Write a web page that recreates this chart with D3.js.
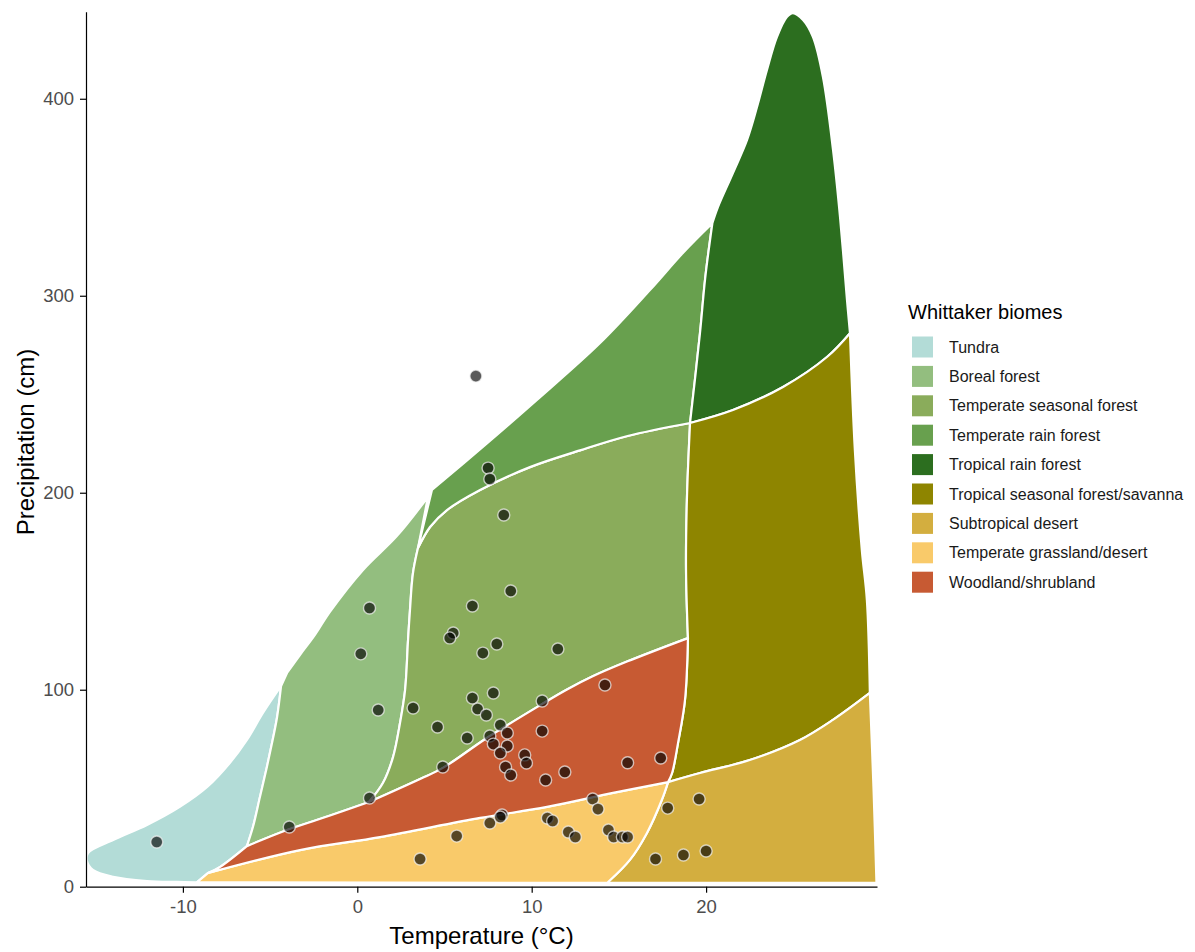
<!DOCTYPE html>
<html>
<head>
<meta charset="utf-8">
<script src="https://cdn.jsdelivr.net/npm/d3@7"></script>
<style>
  body { margin: 0; background: #fff; }
  svg { font-family: "Liberation Sans", Arial, sans-serif; }
</style>
</head>
<body>
<svg id="chart" width="1195" height="952"></svg>
<script>
// biome names and fills, legend order
const biomeNames = ["Tundra", "Boreal forest", "Temperate seasonal forest", "Temperate rain forest",
  "Tropical rain forest", "Tropical seasonal forest/savanna", "Subtropical desert",
  "Temperate grassland/desert", "Woodland/shrubland"];
const biomeColors = ["#B3DCD7", "#93BE7F", "#8AAC5B", "#68A04E", "#2C6E1F",
  "#8E8500", "#D3AE3F", "#F9CA6A", "#C75A33"];

const xTicks = [-10, 0, 10, 20];
const yTicks = [0, 100, 200, 300, 400];

// biome boundaries, [temperature °C, precipitation cm]
// tundra outline: from grassland corner, round the left tip, up to the top
const tundraOuter = [[-9.2, 2.2], [-10.35, 2.4], [-12.06, 2.9], [-14.0, 5.0], [-15.16, 8.5], [-15.5, 13.0],
  [-15.44, 17.1], [-14.0, 23.7], [-12.06, 31.3], [-10.18, 40.5], [-8.61, 50.6],
  [-7.30, 62.9], [-6.33, 74.5], [-5.41, 88.2], [-4.37, 101.9]];
const tundraBoreal = [[-4.37, 101.9], [-4.6, 86.0], [-4.85, 74.6], [-5.18, 60.9], [-5.58, 45.6], [-5.98, 30.4], [-6.33, 20.6]];
const borealTop = [[-4.03, 108.5], [-3.29, 117.6], [-2.43, 127.8], [-1.57, 139.5], [0.33, 160.8], [2.28, 178.1], [4.05, 197.8]];
const borealTemp = [[3.48, 171.9], [3.19, 159.0], [3.02, 140.3], [2.91, 125.2], [2.74, 99.8], [2.45, 83.1],
  [2.05, 65.8], [1.47, 52.6], [0.67, 43.0]];
const woodTopA = [[-8.55, 7.0], [-7.86, 10.1], [-6.33, 20.6]];
const woodTopB = [[-6.33, 20.6], [-4.03, 28.8], [-1.6, 36.0], [0.67, 43.0]];
const woodTopC = [[0.67, 43.0], [3.60, 54.7], [4.91, 60.3], [7.43, 75.5], [10.59, 92.7], [12.0, 100.0],
  [13.5, 106.8], [15.5, 114.4], [18.96, 126.2]];
const woodGrass = [[-8.55, 7.0], [-3.29, 18.6], [1.30, 25.2], [7.04, 34.9], [10.88, 40.5], [14.66, 47.6], [17.82, 53.1]];
const woodRight = [[18.96, 126.2], [18.79, 94.8], [18.39, 72.9], [18.05, 57.7], [17.82, 53.1]];
const grassRight = [[17.82, 53.1], [17.46, 44.0], [16.61, 27.3], [15.63, 13.6], [14.32, 1.9]];
const grassBottom = [[14.32, 1.9], [-9.2, 2.2]];
const sdTop = [[17.82, 53.1], [19.65, 57.7], [22.5, 64.3], [25.38, 74.5], [27.27, 84.7], [29.39, 98.4]];
const sdRight = [[29.39, 98.4], [29.6, 50.0], [29.77, 1.9]];
const tsRight = [[28.25, 281.0], [28.53, 221.7], [28.93, 170.9], [29.22, 145.5], [29.39, 98.4]];
const trfBottom = [[19.08, 235.4], [21.54, 242.0], [24.41, 253.7], [26.93, 268.9], [28.25, 281.0]];
const tempSeasRight = [[19.08, 235.4], [18.90, 196.3], [18.85, 160.8], [18.96, 126.2]];
const tempSeasTop = [[3.48, 171.9], [4.17, 182.6], [5.14, 191.2], [7.04, 201.4], [9.90, 213.0], [12.77, 221.5],
  [15.5, 228.8], [19.08, 235.4]];
const tempRfTop = [[4.28, 201.4], [7.3, 224.0], [10.30, 247.1], [13.92, 276.0], [16.78, 302.9], [18.67, 321.7], [20.36, 336.8]];
const tempRfTropRf = [[20.36, 336.8], [19.95, 309.0], [19.65, 281.0], [19.08, 235.4]];
const tropRfOutline = [[20.36, 336.8], [20.68, 345.0], [21.54, 362.3], [22.35, 379.1], [22.92, 395.8], [23.49, 414.6],
  [24.06, 431.3], [24.63, 441.5], [24.98, 443.5], [25.56, 440.0], [26.13, 431.3], [26.70, 411.0], [27.28, 373.9],
  [27.68, 339.9], [28.08, 297.8], [28.25, 281.0]];

// study sites
const sites = [[6.8, 259.2], [7.5, 212.5], [7.6, 207.0], [8.4, 188.7], [8.8, 150.1], [6.6, 142.5], [0.7, 141.5],
  [0.2, 118.2], [1.2, 89.7], [3.2, 90.7], [5.5, 128.8], [5.3, 126.3], [8.0, 123.2], [7.2, 118.6], [11.5, 120.7],
  [6.6, 95.8], [7.8, 98.3], [6.9, 90.2], [7.4, 87.2], [10.6, 94.3], [4.6, 81.1], [6.3, 75.5], [8.2, 82.1],
  [8.6, 78.0], [7.6, 76.5], [7.8, 72.4], [8.6, 71.4], [10.6, 79.0], [8.2, 67.9], [8.5, 60.8], [8.8, 56.7],
  [9.6, 66.9], [9.7, 62.8], [4.9, 60.8], [10.8, 54.2], [11.9, 58.2], [14.2, 102.4], [15.5, 62.9], [17.4, 65.3],
  [13.5, 44.5], [13.8, 39.4], [17.8, 39.9], [19.6, 44.5], [8.3, 36.4], [7.6, 32.3], [10.9, 34.9], [11.2, 33.4],
  [12.1, 27.8], [12.5, 25.2], [14.4, 28.8], [14.7, 25.2], [15.2, 25.2], [15.5, 25.2], [17.1, 14.1], [18.7, 16.1],
  [20.0, 18.1], [0.7, 45.0], [-3.9, 30.3], [-11.5, 22.7], [3.6, 14.1], [5.7, 25.7], [8.2, 35.4]];

const rev = a => a.slice().reverse();

// each biome = list of boundary pieces, walked in order
const polygons = [
  [tundraOuter, tundraBoreal, rev(woodTopA)],
  [borealTop, borealTemp, rev(woodTopB), rev(tundraBoreal)],
  [tempSeasTop, tempSeasRight, rev(woodTopC), rev(borealTemp)],
  [tempRfTop, tempRfTropRf, rev(tempSeasTop)],
  [tropRfOutline, rev(trfBottom), rev(tempRfTropRf)],
  [trfBottom, tsRight, rev(sdTop), rev(woodRight), rev(tempSeasRight)],
  [sdTop, sdRight, rev(grassRight)],
  [woodGrass, grassRight, grassBottom],
  [woodTopA, woodTopB, woodTopC, woodRight, rev(woodGrass)]
];

const margin = { top: 11.7, right: 318, bottom: 65.3, left: 86 };
const width = 1195 - margin.left - margin.right;
const height = 952 - margin.top - margin.bottom;

const svg = d3.select("#chart");
const g = svg.append("g").attr("transform", `translate(${margin.left},${margin.top})`);

const x = d3.scaleLinear().domain([-15.556, 29.8]).range([0, width]);
const y = d3.scaleLinear().domain([0, 444.2]).range([height, 0]);

const seg = d3.line().x(d => x(d[0])).y(d => y(d[1])).curve(d3.curveCatmullRom.alpha(0.5));
const polyPath = parts => parts.map((p, i) => {
  const s = seg(p);
  return i === 0 ? s : s.replace(/^M/, "L");
}).join("") + "Z";

g.selectAll(".biome")
  .data(polygons)
  .enter()
  .append("path")
  .attr("class", "biome")
  .attr("d", polyPath)
  .attr("fill", (d, i) => biomeColors[i])
  .attr("stroke", "#fff")
  .attr("stroke-width", 2.2)
  .attr("stroke-linejoin", "round");

g.selectAll(".site")
  .data(sites)
  .enter()
  .append("circle")
  .attr("class", "site")
  .attr("cx", d => x(d[0]))
  .attr("cy", d => y(d[1]))
  .attr("r", 6)
  .attr("fill", "#000")
  .attr("fill-opacity", 0.65)
  .attr("stroke", "#f4f4f4")
  .attr("stroke-opacity", 0.7)
  .attr("stroke-width", 1.4);

// axes
const xAxis = g.append("g")
  .attr("transform", `translate(0,${height})`)
  .call(d3.axisBottom(x).tickValues(xTicks).tickFormat(d => String(d))
    .tickSize(6).tickSizeOuter(0).tickPadding(7));
const yAxis = g.append("g")
  .call(d3.axisLeft(y).tickValues(yTicks).tickFormat(d => String(d))
    .tickSize(6).tickSizeOuter(0).tickPadding(6));

[xAxis, yAxis].forEach(a => {
  a.select(".domain").attr("stroke", "#000").attr("stroke-width", 1.2);
  a.selectAll(".tick line").attr("stroke", "#000").attr("stroke-width", 1.2);
  a.selectAll(".tick text").attr("fill", "#4d4d4d").style("font-size", "18.5px")
    .style("font-family", "'Liberation Sans', Arial, sans-serif");
});

svg.append("text")
  .attr("x", margin.left + width / 2)
  .attr("y", 944)
  .attr("text-anchor", "middle")
  .style("font-size", "24px")
  .text("Temperature (°C)");

svg.append("text")
  .attr("transform", "translate(34,442) rotate(-90)")
  .attr("text-anchor", "middle")
  .style("font-size", "24px")
  .text("Precipitation (cm)");

// legend
const legend = svg.append("g").attr("transform", "translate(908,0)");
legend.append("text")
  .attr("x", 0)
  .attr("y", 319)
  .style("font-size", "20px")
  .text("Whittaker biomes");

const item = legend.selectAll(".item")
  .data(biomeNames)
  .enter()
  .append("g")
  .attr("class", "item")
  .attr("transform", (d, i) => `translate(0,${347 + i * 29.4})`);
item.append("rect")
  .attr("x", 4)
  .attr("y", -10.5)
  .attr("width", 21)
  .attr("height", 21)
  .attr("fill", (d, i) => biomeColors[i]);
item.append("text")
  .attr("x", 41)
  .attr("y", 0)
  .attr("dy", "0.35em")
  .style("font-size", "16px")
  .attr("fill", "#1a1a1a")
  .text(d => d);
</script>
</body>
</html>
